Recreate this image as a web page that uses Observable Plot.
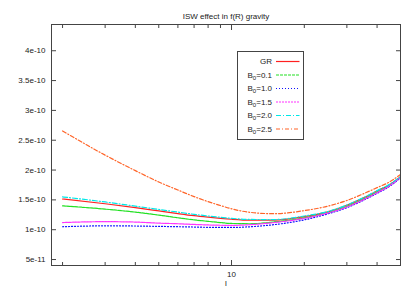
<!DOCTYPE html>
<html>
<head>
<meta charset="utf-8">
<script src="https://cdn.jsdelivr.net/npm/d3@7"></script>
<script src="https://cdn.jsdelivr.net/npm/@observablehq/plot@0.6"></script>
<style>
  html, body { margin: 0; padding: 0; background: #fff; }
  #chart svg { display: block; font-family: "Liberation Sans", Arial, sans-serif; }
</style>
</head>
<body>
<div id="chart"></div>
<script>
// multipole l
const ell = [2, 3, 4, 5, 6, 7, 8, 9, 10, 12, 15, 20, 25, 30, 35, 40, 45, 50];
// ISW power, in units of 1e-10
const gr   = [1.515, 1.435, 1.37, 1.315, 1.27, 1.235, 1.21, 1.19, 1.175, 1.16, 1.16, 1.22, 1.30, 1.41, 1.53, 1.65, 1.755, 1.89];
const b01  = [1.40, 1.345, 1.295, 1.245, 1.20, 1.165, 1.14, 1.12, 1.105, 1.10, 1.13, 1.20, 1.285, 1.39, 1.51, 1.63, 1.74, 1.88];
const b10  = [1.05, 1.065, 1.062, 1.056, 1.05, 1.045, 1.04, 1.038, 1.038, 1.05, 1.085, 1.165, 1.265, 1.37, 1.49, 1.61, 1.725, 1.87];
const b15  = [1.12, 1.135, 1.128, 1.11, 1.10, 1.088, 1.08, 1.075, 1.073, 1.085, 1.12, 1.19, 1.28, 1.38, 1.50, 1.62, 1.735, 1.88];
const b20  = [1.55, 1.465, 1.395, 1.34, 1.295, 1.258, 1.23, 1.208, 1.19, 1.172, 1.17, 1.23, 1.305, 1.415, 1.535, 1.655, 1.76, 1.89];
const b25  = [2.655, 2.25, 1.99, 1.80, 1.665, 1.555, 1.47, 1.405, 1.35, 1.29, 1.268, 1.32, 1.395, 1.49, 1.60, 1.705, 1.80, 1.925];

const seriesNames = ["GR", "B0=0.1", "B0=1.0", "B0=1.5", "B0=2.0", "B0=2.5"];
const seriesValues = [gr, b01, b10, b15, b20, b25];
const seriesColors = ["#ff2020", "#22e022", "#1010ff", "#ff30ff", "#00e8e8", "#ff6428"];
const seriesDash = [null, "3,1", "1,2", "2,1", "5,2,1,2", "4,2,1,2"];

const yTickValues = [0.5, 1, 1.5, 2, 2.5, 3, 3.5, 4];
const yTickLabels = ["5e-11", "1e-10", "1.5e-10", "2e-10", "2.5e-10", "3e-10", "3.5e-10", "4e-10"];
const xMajorTicks = [10];
const xMajorLabels = ["10"];
const xMinorTicks = [2, 3, 4, 5, 6, 7, 8, 9, 20, 30, 40];

const title = "ISW effect in f(R) gravity";
const xLabel = "l";

const rows = [];
seriesNames.forEach((name, i) => {
  ell.forEach((l, j) => rows.push({series: name, l, v: seriesValues[i][j]}));
});

const W = 415, H = 291;
const mL = 51, mR = 15, mT = 24, mB = 26;
const axisColor = "#444";
const textColor = "#222";

const lineMarks = seriesNames.map((name, i) =>
  Plot.line(rows.filter(r => r.series === name), {
    x: "l", y: "v",
    stroke: seriesColors[i],
    strokeWidth: 1.2,
    strokeDasharray: seriesDash[i] || undefined,
    curve: "monotone-x"
  })
);

const yFmt = d => yTickLabels[yTickValues.indexOf(d)];
const xFmt = d => xMajorLabels[xMajorTicks.indexOf(d)];

const plot = Plot.plot({
  width: W, height: H,
  marginLeft: mL, marginRight: mR, marginTop: mT, marginBottom: mB,
  style: {fontFamily: "Liberation Sans, Arial, sans-serif", fontSize: "8px", color: textColor, background: "#fff"},
  x: {type: "log", domain: [1.8, 50]},
  y: {domain: [0.4, 4.44]},
  marks: [
    ...lineMarks,
    Plot.axisY({anchor: "left", ticks: yTickValues, tickFormat: yFmt, tickSize: 0, tickPadding: 6, label: null, fill: textColor}),
    Plot.axisY({anchor: "left", ticks: yTickValues, text: null, tickSize: -5, label: null, stroke: axisColor}),
    Plot.axisY({anchor: "right", ticks: yTickValues, text: null, tickSize: -5, label: null, stroke: axisColor}),
    Plot.axisX({anchor: "bottom", ticks: xMajorTicks, tickFormat: xFmt, tickSize: 0, tickPadding: 6, label: null, fill: textColor}),
    Plot.axisX({anchor: "bottom", ticks: xMajorTicks, text: null, tickSize: -5, label: null, stroke: axisColor}),
    Plot.axisX({anchor: "top", ticks: xMajorTicks, text: null, tickSize: -5, label: null, stroke: axisColor}),
    Plot.axisX({anchor: "bottom", ticks: xMinorTicks, text: null, tickSize: -3, label: null, stroke: axisColor}),
    Plot.axisX({anchor: "top", ticks: xMinorTicks, text: null, tickSize: -3, label: null, stroke: axisColor}),
    Plot.frame({stroke: axisColor, strokeWidth: 1}),
    Plot.text([title], {frameAnchor: "top", dy: -11, text: d => d, fill: textColor, fontSize: 8}),
    Plot.text([xLabel], {frameAnchor: "bottom", dy: 20, text: d => d, fill: textColor, fontSize: 8})
  ]
});

document.getElementById("chart").appendChild(plot);

// legend box (gnuplot style, inside the plot)
const svg = d3.select(plot);
const lg = svg.append("g").attr("transform", "translate(237.5,51.5)");
lg.append("rect").attr("width", 66).attr("height", 88).attr("fill", "#fff").attr("stroke", axisColor);
seriesNames.forEach((name, i) => {
  const y = 10 + i * 13.5;
  const t = lg.append("text").attr("x", 34.5).attr("y", y).attr("dy", "0.35em")
    .attr("text-anchor", "end").attr("fill", textColor).attr("font-size", 8);
  if (name.startsWith("B0")) {
    t.append("tspan").text("B");
    t.append("tspan").attr("dy", "2").attr("font-size", 6).text("0");
    t.append("tspan").attr("dy", "-2").text(name.slice(2));
  } else {
    t.text(name);
  }
  lg.append("line").attr("x1", 38.5).attr("x2", 62).attr("y1", y).attr("y2", y)
    .attr("stroke", seriesColors[i]).attr("stroke-width", 1.2)
    .attr("stroke-dasharray", seriesDash[i]);
});
</script>
</body>
</html>
